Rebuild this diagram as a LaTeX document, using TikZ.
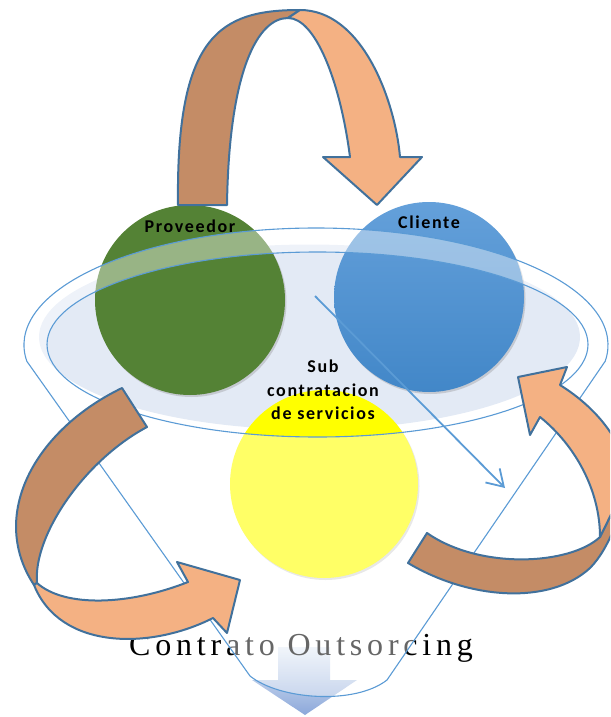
\documentclass[tikz,border=0pt]{standalone}
\usepackage{fontspec}
\setmainfont{Liberation Serif}
\newfontfamily\rotulo[LetterSpace=9,BoldFont={Carlito Bold}]{Carlito}
\newfontfamily\titulo[LetterSpace=15]{Liberation Serif}
\usetikzlibrary{positioning,shadows,arrows.meta}
\definecolor{verde}{RGB}{84,130,53}
\definecolor{azularriba}{RGB}{100,160,218}
\definecolor{azulabajo}{RGB}{66,135,200}
\definecolor{amarillo}{RGB}{255,255,0}
\definecolor{cafe}{RGB}{196,140,102}
\definecolor{salmon}{RGB}{244,177,131}
\definecolor{borde}{RGB}{65,113,156}
\definecolor{linea}{RGB}{91,155,213}
\definecolor{relleno}{RGB}{227,234,245}
\definecolor{bajaarriba}{RGB}{232,239,248}
\definecolor{bajaabajo}{RGB}{140,168,218}

\begin{document}
\begin{tikzpicture}[x=1pt,y=-1pt]
        \tikzstyle{circulo}=[circle,minimum size=190pt,inner sep=0pt,drop shadow={shadow xshift=1.5pt,shadow yshift=-2pt,opacity=.3}]
        \tikzstyle{etiqueta}=[font=\rotulo\bfseries\fontsize{18}{23.5}\selectfont,inner sep=0pt,align=center]
        \tikzstyle{oscura}=[fill=cafe,draw=borde,line width=2pt,line join=round]
        \tikzstyle{clara}=[fill=salmon,draw=borde,line width=2pt,line join=round]
        \tikzstyle{embudo}=[draw=linea,line width=1.1pt]
        \useasboundingbox (0,0) rectangle (610,717);
        \clip (0,0) rectangle (610,717);
        \fill[relleno] (309.5,337) ellipse[x radius=270.5,y radius=92.5];
        \shade[top color=bajaarriba,bottom color=bajaabajo] (278,647) -- (330,647) -- (330,680) -- (357,680) -- (305,715) -- (252,680) -- (278,680) -- cycle;
        \node[font=\titulo\fontsize{32}{36}\selectfont,inner sep=0pt,anchor=base west] (contrato) at (129,655) {Contrato Outsorcing};
        \node[circulo,fill=verde] (proveedor) at (190,300) {};
        \node[circulo,top color=azularriba,bottom color=azulabajo] (cliente) at (429,297) {};
        \node[circulo,fill=amarillo,minimum size=188pt] (subcontratacion) at (324,484) {};
        \fill[white,opacity=.4,even odd rule] ([shift={(316,345)}]172:292 and 117) arc[start angle=172,end angle=368,x radius=292,y radius=117] -- (387,680) .. controls (355,705) and (280,700) .. (250,676) -- cycle (317.5,344.5) ellipse[x radius=270.5,y radius=92.5];
        \draw[embudo] ([shift={(316,345)}]172:292 and 117) arc[start angle=172,end angle=368,x radius=292,y radius=117] -- (387,680) .. controls (355,705) and (280,700) .. (250,676) -- cycle;
        \draw[embudo] (317.5,344.5) ellipse[x radius=270.5,y radius=92.5];
        \coordinate (origen) at (315,296);
        \coordinate (destino) at (505,488);
        \draw[linea,line width=1.8pt,-{Straight Barb[length=16pt,width=20pt]}] (origen) -- (destino);
        \draw[oscura] (178,205) .. controls (176,35) and (220,10) .. (300,10) -- (288,18) .. controls (258,18) and (229,70) .. (227,205) -- cycle;
        \draw[clara] (300,10) .. controls (362,10) and (395,100) .. (400,157) -- (422,157) -- (377,205) -- (323,157) -- (350,157) .. controls (340,80) and (315,18) .. (288,18) -- cycle;
        \draw[oscura] (122,388) .. controls (35,430) and (-12,515) .. (34,585) -- (37,583) .. controls (33,535) and (85,460) .. (147,427) -- cycle;
        \draw[clara] (34,585) .. controls (60,650) and (150,650) .. (213,618) -- (227,633) -- (240,580) -- (177,562) -- (188,582) .. controls (130,605) and (65,608) .. (37,583) -- cycle;
        \draw[oscura] (408,563) .. controls (470,600) and (550,605) .. (590,568) .. controls (610,548) and (622,510) .. (628,480) -- (600,537) .. controls (570,565) and (480,570) .. (427,533) -- cycle;
        \draw[clara] (600,537) .. controls (600,490) and (575,445) .. (540,417) -- (530,435) -- (518,377) -- (567,367) -- (560,385) .. controls (600,410) and (625,445) .. (628,480) -- cycle;
        \node[etiqueta,below=15pt of proveedor.north] (tproveedor) {Proveedor};
        \node[etiqueta,below=14pt of cliente.north] (tcliente) {Cliente};
        \node[etiqueta] (tsub) at (323,390) {Sub\\contratacion\\de servicios};
\end{tikzpicture}
\end{document}
